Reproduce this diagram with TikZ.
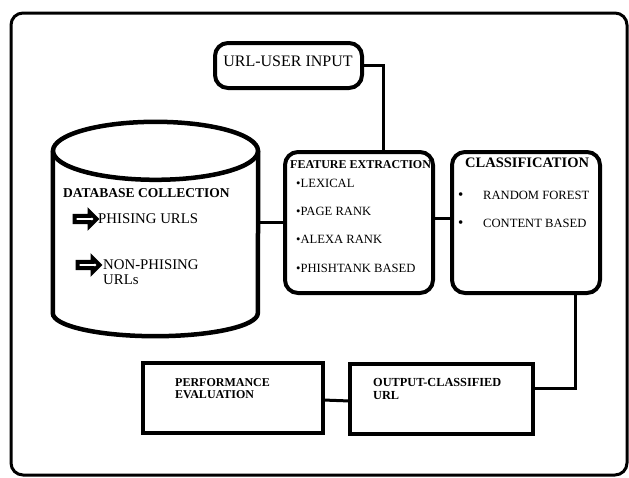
\documentclass[tikz,border=0pt]{standalone}
\usepackage{fontspec}
\setmainfont{Liberation Serif}
\usetikzlibrary{shapes.arrows}
\def\fs#1{\fontsize{#1}{#1}\selectfont}
\tikzset{
  rbox/.style={draw, line width=4pt, rounded corners=13pt, outer sep=0pt},
  sbox/.style={draw, line width=4.5pt, outer sep=0pt},
  conn/.style={line width=3pt},
  lbl/.style={anchor=west, inner sep=0pt},
  pointer/.style={single arrow, draw, line width=4pt, fill=white, inner sep=0pt,
    minimum height=22pt, minimum width=14pt, single arrow head extend=2.5pt}
}
\begin{document}
\begin{tikzpicture}[x=1pt,y=-1pt]
  \useasboundingbox (0,0) rectangle (629,477);
  \draw[line width=3pt, rounded corners=12pt] (11,13) rectangle (627,475);
  % top input
  \node[rbox, minimum width=147pt, minimum height=45pt] (user) at (288.5,65.5) {};
  \node[font=\fs{16}] (userT) at (288,61) {URL-USER INPUT};
  % database
  \node[minimum width=205pt, minimum height=162pt, inner sep=0pt] (db) at (155.5,232) {};
  \draw[line width=4.5pt] (db.north) ellipse [x radius=102.5pt, y radius=29pt];
  \draw[line width=4.5pt] (db.north west) -- (db.south west)
    arc [start angle=180, end angle=360, x radius=102.5pt, y radius=23pt] -- (db.north east);
  \node[lbl, font=\bfseries\fs{13.5}] (dbT) at (63,193) {DATABASE COLLECTION};
  \node[pointer] (arrA) at (84,219) {};
  \node[lbl, font=\fs{14.8}] (phis) at (98,219) {PHISING URLS};
  \node[pointer] (arrB) at (87,265) {};
  \node[lbl, font=\fs{14.8}, align=left] (nonphis) at (103,272) {NON-PHISING\\URLs};
  % feature extraction
  \node[rbox, minimum width=148pt, minimum height=141pt] (fe) at (359,222.5) {};
  \node[lbl, font=\bfseries\fs{12}] (feT) at (290,165) {FEATURE EXTRACTION};
  \node[lbl, font=\fs{12.6}] (f1) at (296,183) {•LEXICAL};
  \node[lbl, font=\fs{12.6}] (f2) at (296,211) {•PAGE RANK};
  \node[lbl, font=\fs{12.6}] (f3) at (296,239) {•ALEXA RANK};
  \node[lbl, font=\fs{12.6}] (f4) at (296,268) {•PHISHTANK BASED};
  % classification
  \node[rbox, minimum width=148pt, minimum height=141pt] (cl) at (526,222.5) {};
  \node[lbl, font=\bfseries\fs{14.5}] (clT) at (465,163) {CLASSIFICATION};
  \node[lbl, font=\fs{15}] (b1) at (458,196) {•};
  \node[lbl, font=\fs{12.6}] (c1) at (483,195) {RANDOM FOREST};
  \node[lbl, font=\fs{15}] (b2) at (458,224) {•};
  \node[lbl, font=\fs{12.6}] (c2) at (483,223) {CONTENT BASED};
  % bottom row
  \node[sbox, minimum width=183pt, minimum height=70pt] (out) at (441.5,399) {};
  \node[lbl, font=\bfseries\fs{12.3}, align=left] (outT) at (373,389) {OUTPUT-CLASSIFIED\\URL};
  \node[sbox, minimum width=180pt, minimum height=70pt] (perf) at (233,398) {};
  \node[lbl, font=\bfseries\fs{12}, align=left] (perfT) at (175,389) {PERFORMANCE\\EVALUATION};
  % links
  \draw[conn] (user.east) -| ([xshift=24pt]fe.north);
  \draw[conn] (fe.west) -- (fe.west -| db.east);
  \draw[conn] ([yshift=4pt]fe.east) -- ([yshift=4pt]cl.west);
  \draw[conn] ([xshift=49pt]cl.south) |- ([yshift=11pt]out.east);
  \draw[conn] ([yshift=-2pt]perf.east) -- ([yshift=-2pt]out.west);
\end{tikzpicture}
\end{document}
